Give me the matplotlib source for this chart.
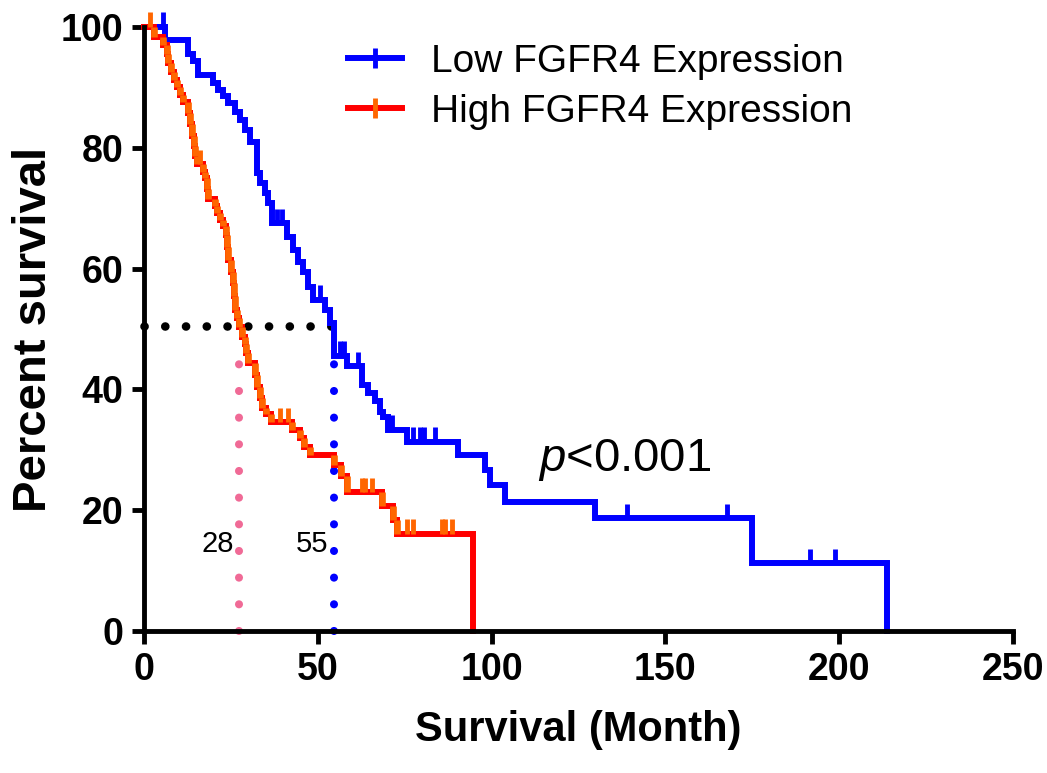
import numpy as np
import matplotlib
matplotlib.use("Agg")
import matplotlib.pyplot as plt
from matplotlib.lines import Line2D

plt.rcParams['font.family'] = ['Liberation Sans', 'DejaVu Sans']
plt.rcParams['mathtext.fontset'] = 'custom'
plt.rcParams['mathtext.it'] = 'Liberation Sans:italic'
plt.rcParams['mathtext.rm'] = 'Liberation Sans'

# ─── Data ────────────────────────────────────────────────────────────────────

low_t = [0, 6.0, 12.7, 14.2, 15.6, 19.9, 21.4, 22.8, 24.3, 26.2, 27.6, 29.1, 30.5,
         32.4, 33.4, 34.8, 35.8, 36.7, 41.1, 43.0, 44.4, 45.8, 47.3, 48.7, 52.1,
         53.5, 54.6, 58.3, 62.6, 64.5, 66.5, 67.9, 68.9, 70.3, 75.6, 90.4, 98.1,
         99.6, 103.9, 129.8, 174.9, 213.7]
low_s = [100, 97.8, 95.6, 94.3, 92.1, 90.7, 89.6, 88.5, 87.4, 86.0, 84.6, 82.9, 81.0,
         75.8, 74.2, 72.5, 70.9, 67.5, 65.3, 63.1, 61.1, 59.5, 57.0, 54.8, 53.1,
         51.0, 45.6, 43.8, 40.7, 39.4, 38.0, 36.3, 35.5, 33.3, 31.3, 29.1, 26.7,
         24.2, 21.4, 18.7, 11.2, 0]
low_cens = [5.5, 38.4, 39.6, 50.6, 56.4, 57.6, 61.6, 71.3, 77.5, 79.4, 80.6, 83.7,
            138.9, 167.8, 191.7, 198.9]

high_t = [0, 3.0, 5.5, 6.5, 7.0, 7.8, 8.5, 9.5, 10.3, 11.2, 12.6, 13.2, 13.8, 14.3,
          14.8, 15.4, 17.0, 17.6, 18.0, 18.5, 20.3, 21.0, 22.0, 22.7, 23.6, 24.0,
          24.3, 24.9, 25.5, 25.9, 26.3, 26.8, 27.3, 28.2, 29.0, 29.4, 29.9, 31.9,
          32.4, 33.5, 34.0, 35.0, 36.5, 42.5, 44.8, 46.0, 47.8, 54.6, 56.6, 58.5,
          68.4, 71.7, 72.7, 94.8]
high_s = [100, 98.3, 97.0, 95.5, 94.0, 92.5, 91.2, 90.0, 88.8, 87.5, 85.8, 84.0, 82.0,
          80.3, 78.6, 77.3, 76.0, 75.0, 73.2, 71.5, 70.3, 69.2, 68.0, 67.0, 65.6,
          63.5, 61.5, 59.5, 57.6, 55.5, 53.2, 51.8, 50.4, 48.7, 47.5, 46.0, 44.3,
          42.3, 40.4, 38.5, 37.0, 36.0, 34.6, 33.3, 32.0, 30.5, 29.1, 27.5, 25.7,
          23.0, 20.7, 18.3, 16.1, 0]
high_cens = [1.7, 16.0, 39.0, 41.5, 62.6, 63.5, 65.5, 75.6, 77.5, 85.7, 86.6, 88.6]

median_high, median_low = 27.4, 54.6      # where the dotted drops sit
median_labels = ["28", "55"]
labels = ["Low FGFR4 Expression", "High FGFR4 Expression"]
p_text = "$p$<0.001"

BLUE, RED, ORANGE, PINK = "#0000FF", "#FF0000", "#FF6600", "#F06A96"


def surv_at(times, surv, c):
    i = np.searchsorted(times, c, side="right") - 1
    return np.asarray(surv)[i]


# ─── Figure ──────────────────────────────────────────────────────────────────

fig = plt.figure(figsize=(10.47, 7.73), dpi=100)
ax = fig.add_axes([0.1375, 0.1837, 0.830, 0.7814])

lw = 4.3

# dotted median guides
dot = dict(linestyle=(0, (0.01, 2.4)), dash_capstyle="round", linewidth=6.2, clip_on=False)
ax.plot([0, median_low], [50.5, 50.5], color="black", **dot)
dotv = dict(linestyle=(0, (0.01, 3.3)), dash_capstyle="round", linewidth=5.8, clip_on=False)
ax.plot([median_high, median_high], [0, 47], color=PINK, **dotv, zorder=1)
ax.plot([median_low, median_low], [0, 46], color=BLUE, **dotv, zorder=1)

# low curve
ax.step(low_t, low_s, where="post", color=BLUE, lw=lw, clip_on=False,
        solid_joinstyle="miter")
lc_s = [surv_at(low_t, low_s, c) for c in low_cens]
ax.vlines(low_cens, lc_s, np.array(lc_s) + 2.4, color=BLUE, lw=3.5, clip_on=False)

# high curve
ax.step(high_t, high_s, where="post", color=RED, lw=lw, clip_on=False,
        solid_joinstyle="miter")
ax.vlines(high_t[1:-1], high_s[1:-1], high_s[:-2], color=ORANGE, lw=lw + 0.5,
          clip_on=False)
hc_s = [surv_at(high_t, high_s, c) for c in high_cens]
ax.vlines(high_cens, hc_s, np.array(hc_s) + 2.4, color=ORANGE, lw=3.5, clip_on=False)

# annotations
ax.text(21.3, 13.1, median_labels[0], fontsize=21, ha="center", va="baseline")
ax.text(48.3, 13.1, median_labels[1], fontsize=21, ha="center", va="baseline")
ax.text(113.4, 26.5, p_text, fontsize=34, ha="left", va="baseline")

# legend
handles = [
    Line2D([], [], color=BLUE, lw=lw, marker="|", markersize=14, mew=3.5, mec=BLUE),
    Line2D([], [], color=RED, lw=lw, marker="|", markersize=14, mew=3.5, mec=ORANGE),
]
ax.legend(handles, labels, loc="upper left", bbox_to_anchor=(0.332, 0.943),
          bbox_transform=fig.transFigure, frameon=False, fontsize=28,
          handlelength=1.4, handletextpad=0.75, labelspacing=0.35,
          borderpad=0, borderaxespad=0)

# axes styling
ax.set_xlim(0, 250)
ax.set_ylim(0, 100)
ax.set_xticks([0, 50, 100, 150, 200, 250])
ax.set_yticks([0, 20, 40, 60, 80, 100])
for s in ["top", "right"]:
    ax.spines[s].set_visible(False)
for s in ["left", "bottom"]:
    ax.spines[s].set_linewidth(3.5)
ax.tick_params(direction="out", length=9, width=3.5, labelsize=27, pad=6)
for lab in ax.get_xticklabels() + ax.get_yticklabels():
    lab.set_fontweight("bold")

ax.set_xlabel("Survival (Month)", fontsize=30, fontweight="bold", labelpad=16)
ax.set_ylabel("Percent survival", fontsize=34, fontweight="bold", labelpad=3)

plt.savefig("out.png", dpi=100)
